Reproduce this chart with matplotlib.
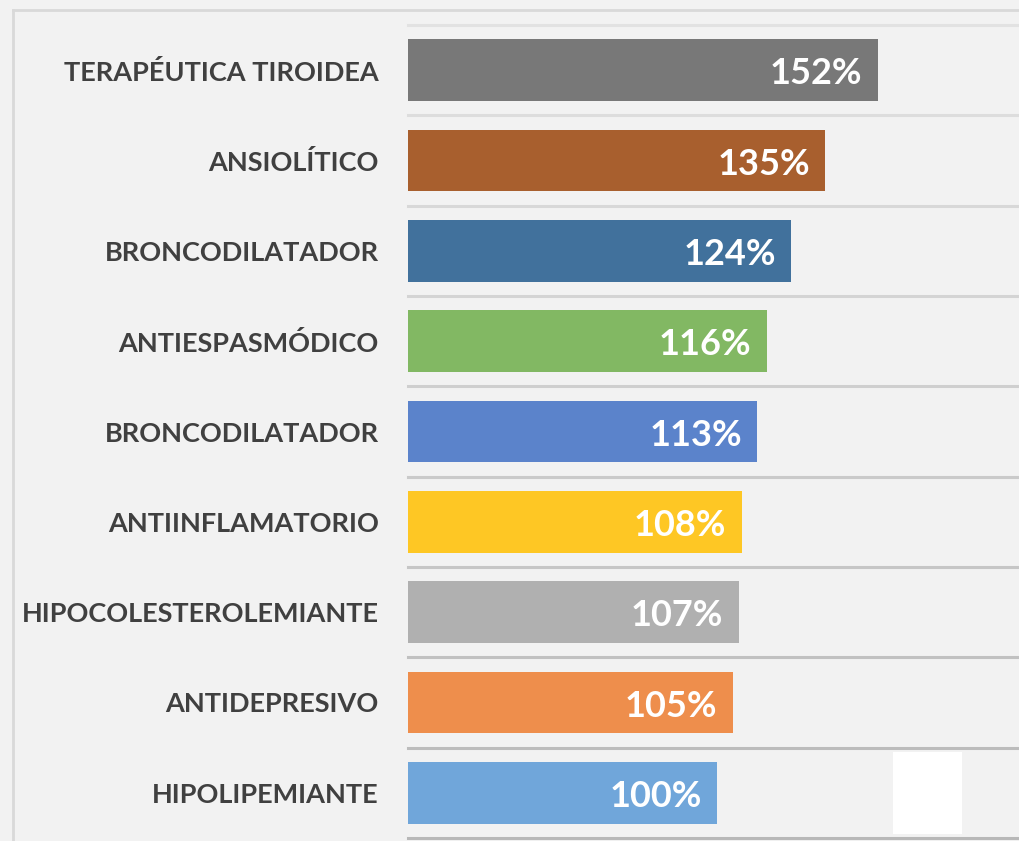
import matplotlib.pyplot as plt
from matplotlib.patches import Rectangle
from matplotlib.lines import Line2D
import numpy as np

# Datos del gráfico (de arriba a abajo)
categorias = [
    "TERAPÉUTICA TIROIDEA",
    "ANSIOLÍTICO",
    "BRONCODILATADOR",
    "ANTIESPASMÓDICO",
    "BRONCODILATADOR",
    "ANTIINFLAMATORIO",
    "HIPOCOLESTEROLEMIANTE",
    "ANTIDEPRESIVO",
    "HIPOLIPEMIANTE",
]
valores = [152, 135, 124, 116, 113, 108, 107, 105, 100]
colores = ["#787878", "#a85f2e", "#41719c", "#82b863", "#5b83cb",
           "#fec724", "#b0b0b0", "#ee8e4c", "#70a6da"]

font = ["Liberation Sans Narrow", "Lato", "DejaVu Sans"]
bg = "#f2f2f2"

fig = plt.figure(figsize=(10.2, 8.41), dpi=100, facecolor=bg)
ax = fig.add_axes([0.4, 1 - 838 / 841, 0.6, (838 - 25) / 841])
ax.set_facecolor(bg)

y = np.arange(len(categorias))
ax.barh(y, valores, height=0.68, color=colores, zorder=3)

ax.set_xlim(0, 198)
ax.set_ylim(len(categorias) - 0.5, -0.5)

# separadores entre categorías, más oscuros hacia abajo
n = len(categorias) + 1
for i in range(n):
    g = int(0xe2 - (0xe2 - 0xb8) * i / (n - 1))
    ax.axhline(i - 0.5, color="#%02x%02x%02x" % (g, g, g), lw=2.2, zorder=1,
               clip_on=False)

for s in ax.spines.values():
    s.set_visible(False)
ax.set_xticks([])
ax.set_yticks(y)
ax.set_yticklabels(categorias, fontsize=19.5, fontweight="bold", color="#404040",
                   family=font)
ax.tick_params(axis="y", length=0, pad=21)

for yi, v in zip(y, valores):
    ax.text(v - 5, yi + 0.04, f"{v}%", ha="right", va="center", color="white",
            fontsize=26, fontweight="bold", family=font, zorder=4)

# borde exterior
fig.add_artist(Line2D([13 / 1020, 1], [1 - 10 / 841] * 2, color="#d9d9d9", lw=2))
fig.add_artist(Line2D([13 / 1020] * 2, [0, 1 - 10 / 841], color="#d9d9d9", lw=2))

# recuadro blanco abajo a la derecha
fig.add_artist(Rectangle((893 / 1020, 1 - 834 / 841), 69 / 1020, 82 / 841,
                         facecolor="white", edgecolor="none", zorder=5))

fig.savefig("out.png", dpi=100, facecolor=bg)
